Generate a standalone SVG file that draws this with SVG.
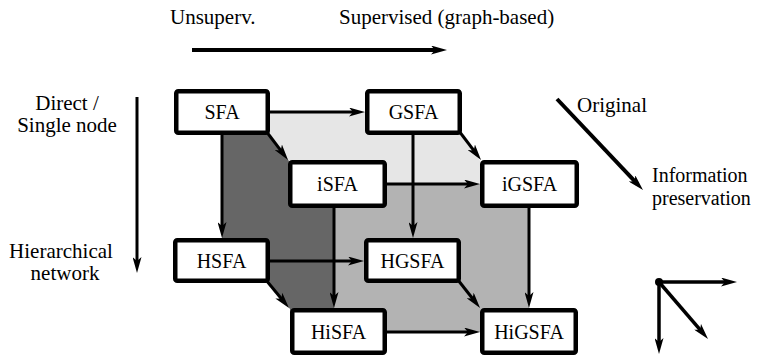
<svg xmlns="http://www.w3.org/2000/svg" width="757" height="356" viewBox="0 0 757 356">
  <defs>
    <marker id="head" markerUnits="userSpaceOnUse" viewBox="0 0 16 9" refX="8" refY="4.5" markerWidth="16" markerHeight="9" orient="auto">
      <path d="M0,0 L16,4.5 L0,9 L4,4.5 Z" fill="#000"/>
    </marker>
  </defs>
  <style>
    text { font-family: "Liberation Serif", Tinos, "Times New Roman", Times, "Noto Serif", "DejaVu Serif", Georgia, serif; font-size: 20px; fill: #000; }
    .lbl { font-size: 21px; }
    .node rect { fill: #fff; stroke: #000; stroke-width: 4.5; }
    .node text { text-anchor: middle; }
    .edge { fill: none; stroke: #000; stroke-width: 3; marker-end: url(#head); }
    .axis { fill: none; stroke: #000; stroke-width: 3.5; marker-end: url(#head); }
  </style>

  <!-- faces of the cube -->
  <g id="faces">
    <polygon points="222,112 413,112 413,133 460,133 481,162 529,162 529,184 334,184 334,162 290,162 268,133 222,133" fill="#e6e6e6"/>
    <polygon points="334,184 529,184 529,332 334,332" fill="#b3b3b3"/>
    <polygon points="222,112 268,112 268,133 289,161 334,161 334,332 290,332 290,309 268,282 268,261 222,261" fill="#666"/>
  </g>

  <!-- axis legends -->
  <g id="legend">
    <text class="lbl" x="170" y="24">Unsuperv.</text>
    <text class="lbl" x="339" y="24">Supervised (graph-based)</text>
    <line class="axis" x1="192" y1="50" x2="439" y2="50" style="stroke-width:4"/>

    <text class="lbl" x="67" y="110" text-anchor="middle">Direct /</text>
    <text class="lbl" x="67" y="132" text-anchor="middle">Single node</text>
    <text class="lbl" x="61" y="258" text-anchor="middle">Hierarchical</text>
    <text class="lbl" x="65" y="280" text-anchor="middle">network</text>
    <line class="axis" x1="137" y1="97" x2="137" y2="265" style="stroke-width:3"/>

    <text class="lbl" x="577" y="112">Original</text>
    <text x="652" y="182">Information</text>
    <text x="652" y="205">preservation</text>
    <line class="axis" x1="557" y1="99" x2="637.5" y2="184.2" style="stroke-width:4"/>

    <circle cx="659" cy="282" r="4" fill="#000"/>
    <line class="axis" x1="659" y1="282" x2="729" y2="282"/>
    <line class="axis" x1="659" y1="282" x2="659" y2="346"/>
    <line class="axis" x1="659" y1="282" x2="702.8" y2="332.9"/>
  </g>

  <!-- connectors -->
  <g id="connectors">
    <line class="edge" x1="270" y1="112" x2="357" y2="112"/>
    <line class="edge" x1="387" y1="184" x2="472" y2="184"/>
    <line class="edge" x1="270" y1="261" x2="356" y2="261"/>
    <line class="edge" x1="387" y1="332" x2="472" y2="332"/>

    <line class="edge" x1="222" y1="134" x2="222" y2="230"/>
    <line class="edge" x1="413" y1="134" x2="413" y2="230"/>
    <line class="edge" x1="334" y1="208" x2="334" y2="300"/>
    <line class="edge" x1="529" y1="208" x2="529" y2="300"/>

    <line class="edge" x1="266" y1="131" x2="283.2" y2="153.6"/>
    <line class="edge" x1="459" y1="131" x2="476.2" y2="153.6"/>
    <line class="edge" x1="266" y1="280" x2="283.9" y2="301.8"/>
    <line class="edge" x1="458" y1="280" x2="475.1" y2="301.7"/>
  </g>

  <!-- nodes -->
  <g id="SFA" class="node">
    <rect x="176.25" y="91.25" width="91.5" height="41.5" rx="2"/>
    <text x="222" y="119">SFA</text>
  </g>
  <g id="GSFA" class="node">
    <rect x="367.25" y="91.25" width="92.5" height="41.5" rx="2"/>
    <text x="413.5" y="119">GSFA</text>
  </g>
  <g id="iSFA" class="node">
    <rect x="290.25" y="162.25" width="94.5" height="43.5" rx="2"/>
    <text x="337.5" y="191">iSFA</text>
  </g>
  <g id="iGSFA" class="node">
    <rect x="482.25" y="162.25" width="94.5" height="43.5" rx="2"/>
    <text x="529.5" y="191">iGSFA</text>
  </g>
  <g id="HSFA" class="node">
    <rect x="175.25" y="240.25" width="92.5" height="40.5" rx="2"/>
    <text x="221.5" y="268">HSFA</text>
  </g>
  <g id="HGSFA" class="node">
    <rect x="366.25" y="240.25" width="92.5" height="40.5" rx="2"/>
    <text x="412.5" y="268">HGSFA</text>
  </g>
  <g id="HiSFA" class="node">
    <rect x="292.25" y="310.25" width="92.5" height="42.5" rx="2"/>
    <text x="338.5" y="339">HiSFA</text>
  </g>
  <g id="HiGSFA" class="node">
    <rect x="482.25" y="310.25" width="93.5" height="42.5" rx="2"/>
    <text x="529" y="339">HiGSFA</text>
  </g>
</svg>
